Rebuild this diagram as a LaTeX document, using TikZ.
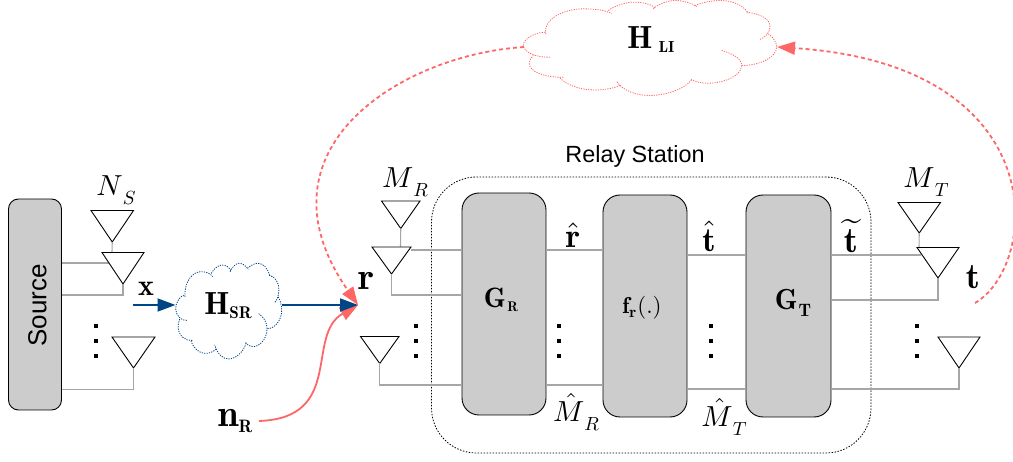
\documentclass[tikz,border=0pt]{standalone}
\usepackage{graphicx}
\usepackage{fontspec}
\setmainfont{Liberation Sans}
\DeclareMathAlphabet{\mathbn}{OT1}{cmr}{b}{n}
\usetikzlibrary{arrows.meta}
\definecolor{rd}{HTML}{FF6666}
\definecolor{bl}{HTML}{004586}
\definecolor{wire}{HTML}{A6A6A6}
\definecolor{boxfill}{HTML}{CCCCCC}
\newcommand\sz[2]{\scalebox{\fpeval{#1/10}}{$#2$}}
\newcommand\lab[5]{\sz{#1}{#2}\raisebox{-#5pt}{\sz{#3}{#4}}}
\newcommand\antenna[5]{% name, left, right, top, apexy
  \draw[tri] (#2,#4) -- (#3,#4) -- ({(#2+#3)/2},#5) -- cycle;
  \coordinate (#1) at ({(#2+#3)/2},#5);}
\newcommand\cloudshape[1]{%
  \draw[#1] (137,100) .. controls (130,50) and (200,25) .. (250,25) .. controls (290,25) and (320,30) .. (335,40);
  \draw[#1] (325,30) .. controls (345,15) and (380,5) .. (400,5) .. controls (430,5) and (455,12) .. (465,22);
  \draw[#1] (460,25) .. controls (475,10) and (505,0) .. (525,0) .. controls (550,0) and (575,8) .. (590,18);
  \draw[#1] (585,15) .. controls (610,5) and (640,0) .. (660,0) .. controls (700,0) and (730,15) .. (745,38);
  \draw[#1] (740,35) .. controls (780,40) and (812,55) .. (810,80) .. controls (808,100) and (795,110) .. (778,118);
  \draw[#1] (805,100) .. controls (820,110) and (830,125) .. (830,140) .. controls (830,170) and (780,195) .. (725,195);
  \draw[#1] (665,150) .. controls (700,160) and (725,175) .. (725,195) .. controls (725,230) and (660,250) .. (620,248) .. controls (600,248) and (585,243) .. (570,236);
  \draw[#1] (575,238) .. controls (550,270) and (490,285) .. (450,285) .. controls (410,285) and (370,272) .. (350,243);
  \draw[#1] (360,255) .. controls (340,265) and (300,270) .. (270,268) .. controls (230,265) and (195,250) .. (180,232);
  \draw[#1] (190,230) .. controls (140,232) and (88,215) .. (88,190) .. controls (88,178) and (95,170) .. (100,165);
  \draw[#1] (150,170) .. controls (110,172) and (70,155) .. (70,135) .. controls (70,115) and (105,95) .. (137,95);}
\tikzset{
  x=1pt,y=-1pt,
  tri/.style={draw=black,fill=white,line width=0.9pt,line join=miter},
  wireline/.style={draw=wire,line width=1.1pt},
  dsp/.style={draw=black,fill=boxfill,line width=0.9pt,rounded corners=17pt,inner sep=0pt},
  txt/.style={inner sep=0pt,text=black},
  dotsq/.style={fill=black,inner sep=0pt,minimum size=4pt,draw=none},
  blue arrow/.style={draw=bl,line width=1.8pt,-{Triangle[length=18pt,width=13pt,fill=bl]}},
  red solid/.style={draw=rd,line width=1.8pt,-{Triangle[length=18pt,width=14pt,fill=rd]}},
  red dash/.style={draw=rd,line width=1.8pt,dash pattern=on 4pt off 3pt,-{Triangle[length=18pt,width=13pt,fill=rd,sep=0pt]}},
}
\begin{document}
\begin{tikzpicture}
\useasboundingbox (0,0) rectangle (1013,462);
% boxes
\node[dsp,rounded corners=10pt,minimum width=53pt,minimum height=211pt] (src) at (35,304.5) {};
\node[txt,rotate=90,font=\fontsize{26}{26}\selectfont] (srct) at (37.5,305.5) {Source};
\node[draw=black,line width=0.8pt,dash pattern=on 1.5pt off 1.5pt,rounded corners=45pt,minimum width=439.5pt,minimum height=276pt,inner sep=0pt] (relay) at (651.25,315) {};
\node[txt,font=\fontsize{23.4}{23.4}\selectfont] (relayt) at (635,156) {Relay Station};
\coordinate (sa) at (110,263);
\coordinate (ra) at (411,250);
\coordinate (ta) at (921,255);
% source antennas
\antenna{ns1}{91}{133.5}{210.5}{242}
\coordinate (ns2top) at (112,252.5);
\draw[wireline] (ns1) -- (ns2top);
\draw[wireline] (src.east |- sa) -- (sa);
\antenna{ns2}{102}{144}{252.5}{284}
\draw[wireline] (ns2) |- (src.east |- 0,295);
\antenna{ns3}{112}{155}{337}{368}
\draw[wireline] (ns3) |- (src.east |- 0,389.5);
% relay rx antennas
\antenna{mr1}{381.5}{420}{201}{228.5}
\coordinate (mr2top) at (400.5,247);
\draw[wireline] (mr1) -- (mr2top);
\node[dsp,minimum width=84pt,minimum height=222pt] (gr) at (504,304) {};
\node[dsp,minimum width=84pt,minimum height=222pt] (fr) at (645,306) {};
\node[dsp,minimum width=85pt,minimum height=222pt] (gt) at (788.5,306) {};
\draw[wireline] (ra) -- (gr.west |- ra);
\antenna{mr2}{372}{411}{247}{274}
\draw[wireline] (mr2) |- (gr.west |- 0,295);
\antenna{mr3}{360.5}{399}{336.5}{363.5}
\draw[wireline] (mr3) |- (gr.west |- 0,385);
\draw[wireline] (gr.east |- 0,250) -- (fr.west |- 0,250);
\draw[wireline] (gr.east |- 0,385) -- (fr.west |- 0,385);
\draw[wireline] (fr.east |- 0,255) -- (gt.west |- 0,255);
\draw[wireline] (fr.east |- 0,389) -- (gt.west |- 0,389);
% tx antennas
\antenna{mt1}{898}{940.5}{202.5}{233}
\coordinate (mt2top) at (919,248);
\draw[wireline] (mt1) -- (mt2top);
\draw[wireline] (gt.east |- ta) -- (ta);
\antenna{mt2}{917}{959}{247.5}{278}
\draw[wireline] (mt2) |- (gt.east |- 0,300);
\antenna{mt3}{938}{980}{337}{368}
\draw[wireline] (mt3) |- (gt.east |- 0,389);
% dots
\foreach \n/\x in {a/96,b/416,c/559,d/711,e/917}{
  \foreach \m/\y in {1/326,2/341,3/356}{
    \node[dotsq] (dot\n\m) at (\x,\y) {};
  }
}
% clouds
\begin{scope}[shift={(165.9,263.3)},xscale=0.1395,yscale=0.3357]
\cloudshape{draw=bl,line width=0.8pt,dash pattern=on 1.2pt off 1.2pt}
\end{scope}
\begin{scope}[shift={(500,0.5)},xscale=0.3333,yscale=0.3333]
\cloudshape{draw=rd,line width=0.8pt,dash pattern=on 1.2pt off 1.2pt}
\end{scope}
% named connector ends
\coordinate (hsrL) at (175.5,305);
\coordinate (hsrR) at (282,305);
\coordinate (xs) at (133,305);
\coordinate (rin) at (358,305);
\coordinate (hliL) at (524,47);
\coordinate (hliR) at (777,47);
\coordinate (ttx) at (975,303);
\coordinate (nrs) at (259,421);
% red connectors
\draw[red solid] (nrs) .. controls (345,418) and (305,335) .. (rin);
\draw[red dash] (hliL) .. controls (400,55) and (250,150) .. (rin);
\draw[red dash] (ttx) .. controls (1040,265) and (1055,65) .. (hliR);
% blue connectors
\draw[blue arrow] (xs) -- (hsrL);
\draw[blue arrow] (hsrR) -- (rin);
% labels
\node[txt] (hsr) at (228,306) {\lab{32}{\mathbn{H}}{17}{\mathbn{SR}}{4}};
\node[txt] (hli) at (651,40) {\sz{32}{\mathbn{H}}\hspace{6pt}\raisebox{-4pt}{\sz{16}{\mathbn{LI}}}};
\node[txt] (xl) at (146,289) {\sz{30}{\mathbn{x}}};
\node[txt] (rl) at (366,281) {\sz{38}{\mathbn{r}}};
\node[txt] (tl) at (973,277) {\sz{36}{\mathbn{t}}};
\node[txt] (nrl) at (235,421) {\lab{38}{\mathbn{n}}{18}{\mathbn{R}}{6}};
\node[txt] (ns) at (116,190) {\lab{29}{N}{19}{S}{9}};
\node[txt] (mr) at (405,182) {\lab{29}{M}{19}{R}{9}};
\node[txt] (mt) at (926,182) {\lab{29}{M}{19}{T}{9}};
\node[txt] (rh) at (573,235) {\sz{34}{\hat{\mathbn{r}}}};
\node[txt] (th) at (709,236) {\sz{34}{\hat{\mathbn{t}}}};
\node[txt] (tt) at (851,236) {\sz{36}{\widetilde{\mathbn{t}}}};
\node[txt] (mrh) at (576,412) {\lab{29}{\hat{M}}{19}{R}{9}};
\node[txt] (mth) at (724,417) {\lab{29}{\hat{M}}{19}{T}{9}};
\node[txt] (grl) at (501,300) {\sz{28}{\mathbn{G}}\hspace{1.5pt}\raisebox{-4pt}{\sz{14}{\mathbn{R}}}};
\node[txt] (gtl) at (793,303) {\sz{29}{\mathbn{G}}\hspace{1pt}\raisebox{-7pt}{\sz{18}{\mathbn{T}}}};
\node[txt] (frl) at (642,308) {\sz{23}{\mathbn{f}_{\mathbn{r}}(.)}};
\end{tikzpicture}
\end{document}
